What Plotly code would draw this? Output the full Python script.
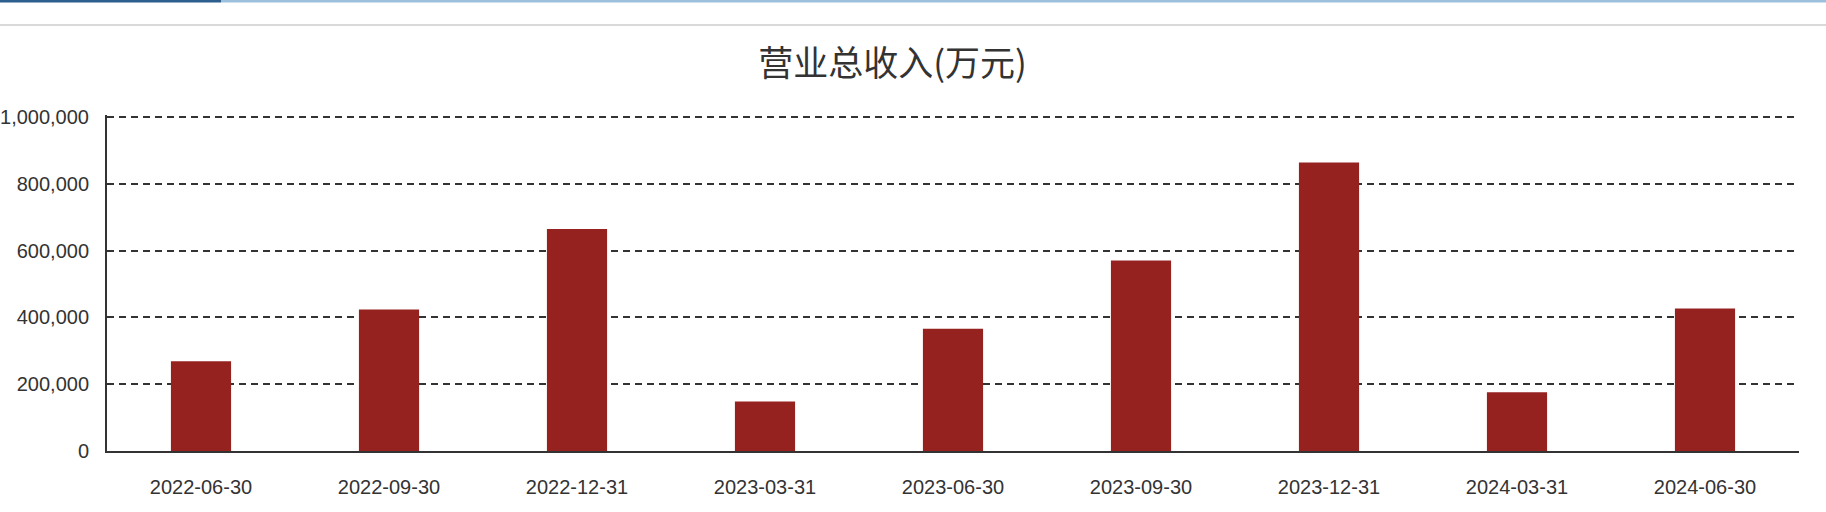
import plotly.graph_objects as go

# 营业总收入 by report date (万元)
dates = ["2022-06-30", "2022-09-30", "2022-12-31", "2023-03-31", "2023-06-30",
         "2023-09-30", "2023-12-31", "2024-03-31", "2024-06-30"]
revenue = [269000, 424000, 665000, 148000, 366000, 570000, 864000, 176000, 427000]

y_ticks = [0, 200000, 400000, 600000, 800000, 1000000]
y_tick_text = ["0", "200,000", "400,000", "600,000", "800,000", "1,000,000"]

W, H = 1826, 512
ML, MR, MT, MB = 107, 27, 115, 61
pw, ph = W - ML - MR, H - MT - MB


def px_x(p):
    return (p - ML) / pw


def px_y(p):
    return (H - MB - p) / ph


fig = go.Figure()

fig.add_trace(go.Bar(x=dates, y=revenue, marker_color="#962220",
                     marker_line_width=0, name="营业总收入"))

fig.update_layout(
    width=W, height=H,
    margin=dict(l=ML, r=MR, t=MT, b=MB, pad=0, autoexpand=False),
    paper_bgcolor="white", plot_bgcolor="white",
    showlegend=False, bargap=0.68,
    font=dict(family="Liberation Sans, Arial, sans-serif", size=20, color="#333333"),
    title=dict(text="营业总收入(万元)", xref="container", yref="container",
               x=0.4888, y=0.875, xanchor="center", yanchor="middle",
               font=dict(family="Noto Sans CJK SC, sans-serif", size=35, color="#333333")),
)

fig.update_xaxes(type="category", showgrid=False, showline=True, linecolor="#333333",
                 linewidth=2, ticks="", ticklabelstandoff=17, automargin=False)
# range a bit above 1,000,000 so the top dashed gridline is drawn
fig.update_yaxes(range=[0, 1006000], tickvals=y_ticks, ticktext=y_tick_text,
                 showgrid=True, gridcolor="#333333", gridwidth=2, griddash="7px,5px",
                 showline=True, linecolor="#333333", linewidth=2, ticks="",
                 zeroline=False, ticklabelstandoff=12, automargin=False)

# page header decoration: blue band and grey rule
fig.add_shape(type="rect", xref="paper", yref="paper",
              x0=px_x(0), x1=px_x(221), y0=px_y(2.5), y1=px_y(0),
              fillcolor="#2c5f8e", line_width=0, layer="above")
fig.add_shape(type="rect", xref="paper", yref="paper",
              x0=px_x(221), x1=px_x(W), y0=px_y(2.5), y1=px_y(0),
              fillcolor="#9dc0dc", line_width=0, layer="above")
fig.add_shape(type="rect", xref="paper", yref="paper",
              x0=px_x(0), x1=px_x(W), y0=px_y(26), y1=px_y(24),
              fillcolor="#d9d9d9", line_width=0, layer="above")

fig.write_html("out.html", config={"displayModeBar": False},
               post_script="document.body.style.margin='0';")
